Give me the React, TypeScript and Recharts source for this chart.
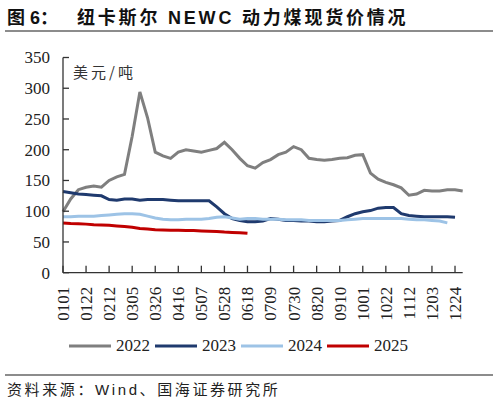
import React from "react";
import { LineChart, Line, XAxis, YAxis, Legend } from "recharts";

// 周度日期（月日），每 3 周显示一个刻度
const dates = [
  "0101", "0108", "0115", "0122", "0129", "0205", "0212", "0219", "0226",
  "0305", "0312", "0319", "0326", "0402", "0409", "0416", "0423", "0430",
  "0507", "0514", "0521", "0528", "0604", "0611", "0618", "0625", "0702",
  "0709", "0716", "0723", "0730", "0806", "0813", "0820", "0827", "0903",
  "0910", "0917", "0924", "1001", "1008", "1015", "1022", "1029", "1105",
  "1112", "1119", "1126", "1203", "1210", "1217", "1224", "1231",
];

const yTicks = [0, 50, 100, 150, 200, 250, 300, 350];

const s2022 = [
  99, 120, 135, 139, 141, 139, 150, 156, 160, 222, 294, 252, 196, 190, 186,
  196, 200, 198, 196, 199, 202, 212, 200, 186, 174, 170, 179, 184, 192, 196,
  205, 200, 186, 184, 183, 184, 186, 187, 191, 192, 162, 152, 147, 143, 138,
  126, 128, 134, 133, 133, 135, 135, 133,
];

const s2023 = [
  132, 130, 128, 127, 126, 125, 119, 118, 120, 120, 118, 119, 119, 119, 118,
  117, 117, 117, 117, 117, 107, 96, 88, 85, 83, 83, 84, 88, 87, 85, 85, 84, 84,
  83, 83, 84, 85, 91, 96, 99, 101, 105, 106, 106, 96, 93, 92, 91, 91, 91, 91,
  90,
];

const s2024 = [
  91, 91, 92, 92, 92, 93, 94, 95, 96, 96, 95, 92, 89, 87, 86, 86, 87, 87, 87,
  88, 90, 91, 89, 87, 88, 88, 87, 87, 87, 86, 86, 86, 85, 85, 85, 85, 85, 86,
  87, 88, 88, 88, 88, 88, 88, 87, 86, 86, 85, 84, 81,
];

const s2025 = [
  81, 80, 79.5, 79, 78, 77.5, 77, 76, 75, 74, 72, 71, 70, 69.5, 69, 69, 68.5,
  68.5, 68, 67.5, 67, 66, 65.5, 65, 64,
];

const series = [
  { key: "y2022", name: "2022", color: "#7f7f7f" },
  { key: "y2023", name: "2023", color: "#1f3a6e" },
  { key: "y2024", name: "2024", color: "#9dc3e6" },
  { key: "y2025", name: "2025", color: "#c00000" },
];

const data = dates.map((d, i) => ({
  date: d,
  y2022: s2022[i] ?? null,
  y2023: s2023[i] ?? null,
  y2024: s2024[i] ?? null,
  y2025: s2025[i] ?? null,
}));

const serif = '"Times New Roman", Tinos, "Liberation Serif", "DejaVu Serif", "Noto Serif", Times, serif';
const cjk = '"Noto Sans CJK SC", sans-serif';
const axisColor = "#333";

function XTick({ x, y, payload }: any) {
  return (
    <g>
      <line x1={x} y1={y} x2={x} y2={y - 7} stroke={axisColor} strokeWidth={1.3} />
      <text
        x={x}
        y={y + 14}
        dy="0.35em"
        transform={`rotate(-90, ${x}, ${y + 14})`}
        textAnchor="end"
        style={{ fontFamily: serif, fontSize: 17 }}
        fill="#222"
      >
        {payload.value}
      </text>
    </g>
  );
}

function YTick({ x, y, payload }: any) {
  return (
    <g>
      <line x1={x} y1={y} x2={x + 6} y2={y} stroke={axisColor} strokeWidth={1.3} />
      <text
        x={x - 13}
        y={y}
        dy="0.35em"
        textAnchor="end"
        style={{ fontFamily: serif, fontSize: 17 }}
        fill="#222"
      >
        {payload.value}
      </text>
    </g>
  );
}

function LegendBox({ payload }: any) {
  return (
    <div style={{ display: "flex", alignItems: "center" }}>
      {(payload || []).map((p: any) => (
        <div key={p.value} style={{ display: "flex", alignItems: "center", marginRight: 5 }}>
          <svg width={42} height={6} style={{ marginRight: 5 }}>
            <line x1={0} y1={3} x2={42} y2={3} stroke={p.color} strokeWidth={3} />
          </svg>
          <span style={{ fontFamily: serif, fontSize: 17, color: "#222" }}>{p.value}</span>
        </div>
      ))}
    </div>
  );
}

export default function App() {
  return (
    <div
      style={{
        position: "absolute",
        left: 0,
        top: 0,
        width: 499,
        height: 402,
        background: "#fff",
        overflow: "hidden",
      }}
    >
      {/* 标题 */}
      <div
        style={{
          position: "absolute",
          left: 7,
          top: 3,
          fontFamily: '"Liberation Sans", ' + cjk,
          fontWeight: 700,
          fontSize: 18,
          color: "#111",
          whiteSpace: "nowrap",
        }}
      >
        图 6：
      </div>
      <div
        style={{
          position: "absolute",
          left: 77,
          top: 3,
          fontFamily: '"Liberation Sans", ' + cjk,
          fontWeight: 700,
          fontSize: 18,
          letterSpacing: 2.8,
          color: "#111",
          whiteSpace: "nowrap",
        }}
      >
        纽卡斯尔 NEWC 动力煤现货价情况
      </div>
      <div style={{ position: "absolute", left: 5, top: 30, width: 488, height: 1.5, background: "#8c8c8c" }} />

      <LineChart
        width={499}
        height={402}
        data={data}
        margin={{ top: 57.5, right: 36.3, bottom: 0, left: 0 }}
        style={{ position: "absolute", left: 0, top: 0 }}
      >
        <XAxis
          dataKey="date"
          interval={2}
          height={129.3}
          tickLine={false}
          tickSize={0}
          tickMargin={0}
          tick={<XTick />}
          axisLine={{ stroke: axisColor, strokeWidth: 1.3 }}
        />
        <YAxis
          width={63}
          domain={[0, 350]}
          ticks={yTicks}
          tickLine={false}
          tickSize={0}
          tickMargin={0}
          tick={<YTick />}
          axisLine={{ stroke: axisColor, strokeWidth: 1.3 }}
        />
        <Legend
          verticalAlign="middle"
          layout="horizontal"
          wrapperStyle={{ left: 69, top: 336, width: "auto" }}
          content={<LegendBox />}
        />
        {series.map((s) => (
          <Line
            key={s.key}
            dataKey={s.key}
            name={s.name}
            stroke={s.color}
            strokeWidth={3}
            dot={false}
            activeDot={false}
            isAnimationActive={false}
            type="linear"
          />
        ))}
      </LineChart>

      {/* 单位 */}
      <div
        style={{
          position: "absolute",
          left: 73,
          top: 61,
          fontFamily: cjk,
          fontSize: 15,
          letterSpacing: 3,
          color: "#333",
        }}
      >
        美元/吨
      </div>

      {/* 资料来源 */}
      <div style={{ position: "absolute", left: 5, top: 374, width: 488, height: 1.5, background: "#8c8c8c" }} />
      <div
        style={{
          position: "absolute",
          left: 7,
          top: 378,
          fontFamily: '"Liberation Sans", ' + cjk,
          fontSize: 15,
          letterSpacing: 2.6,
          color: "#222",
          whiteSpace: "nowrap",
        }}
      >
        资料来源：Wind、国海证券研究所
      </div>
    </div>
  );
}
